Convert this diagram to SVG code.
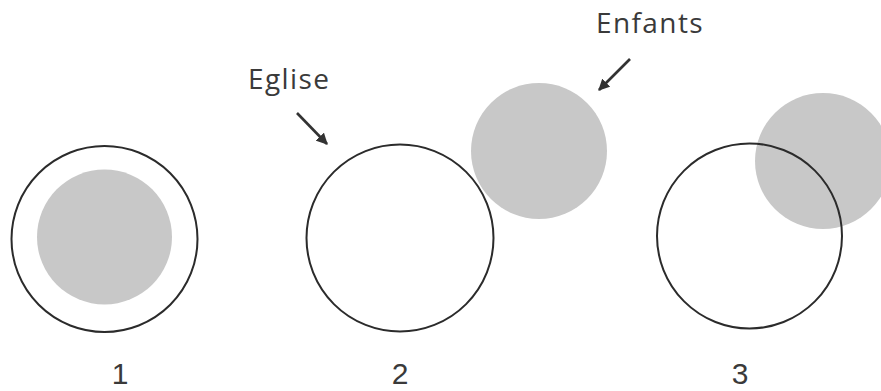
<svg xmlns="http://www.w3.org/2000/svg" width="881" height="391" viewBox="0 0 881 391">
<defs>
<style>
.ring{fill:none;stroke:#2b2b2b;stroke-width:2}
.blob{fill:#c8c8c8}
.lbl{font-family:"Open Sans","Noto Sans",sans-serif;font-size:28px;fill:#3a3a3a;letter-spacing:1.4px}
.num{font-family:"Liberation Sans",Arial,sans-serif;font-size:30px;fill:#3a3a3a;text-anchor:middle}
.arr{stroke:#333;stroke-width:2.6;fill:none;marker-end:url(#ah)}
</style>
<marker id="ah" viewBox="0 0 10 10" refX="9" refY="5" markerWidth="4.4" markerHeight="4.4" orient="auto" markerUnits="strokeWidth">
<path d="M0,0 L10,5 L0,10 z" fill="#333"/>
</marker>
</defs>
<rect width="881" height="391" fill="#ffffff"/>
<g id="diagram1">
<circle class="blob" cx="104.5" cy="237" r="67.5"/>
<circle class="ring" cx="104.5" cy="239" r="93"/>
<text class="num" x="120" y="384">1</text>
</g>
<g id="diagram2">
<circle class="blob" cx="539" cy="151" r="68"/>
<circle class="ring" cx="400" cy="238" r="93.5"/>
<text class="num" x="400" y="384">2</text>
</g>
<g id="diagram3">
<circle class="blob" cx="823" cy="161" r="68"/>
<circle class="ring" cx="749.5" cy="236" r="92.5"/>
<text class="num" x="740" y="384">3</text>
</g>
<g id="label-eglise">
<text class="lbl" x="248" y="89">Eglise</text>
</g>
<g id="label-enfants">
<text class="lbl" x="596" y="33">Enfants</text>
</g>
<g id="connectors">
<line class="arr" x1="297" y1="113" x2="327" y2="144"/>
<line class="arr" x1="630" y1="59" x2="599" y2="90"/>
</g>
</svg>
